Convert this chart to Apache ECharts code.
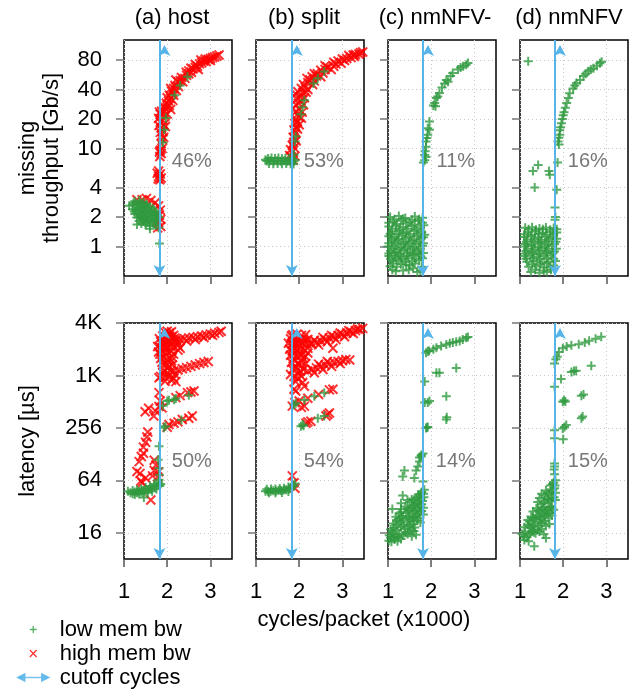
<!DOCTYPE html>
<html>
<head>
<meta charset="utf-8">
<script src="https://cdn.jsdelivr.net/npm/echarts@6/dist/echarts.min.js"></script>
<style>
  html, body { margin: 0; padding: 0; background: #fff; }
  #chart { width: 636px; height: 692px; }
</style>
</head>
<body>
<div id="chart"></div>
<script>
// panel titles, ticks, annotations
var panelTitles = ['(a) host', '(b) split', '(c) nmNFV-', '(d) nmNFV'];
var xTicks = [1, 2, 3];
var thrTicks = [1, 2, 4, 10, 20, 40, 80];
var latTicks = [16, 64, 256, 1024, 4096];
var latTickLabels = ['16', '64', '256', '1K', '4K'];
var thrPct = ['46%', '53%', '11%', '16%'];
var latPct = ['50%', '54%', '14%', '15%'];
var cutoffCycles = [1.82, 1.83, 1.81, 1.81];

// (a) host - missing throughput
var hostThrLow = [
  [1.25,2.9],[1.35,2.95],[1.45,2.85],[1.12,2.6],[1.2,2.65],[1.3,2.7],[1.4,2.6],[1.5,2.62],[1.6,2.55],
  [1.2,2.4],[1.28,2.35],[1.36,2.45],[1.44,2.35],[1.52,2.4],[1.6,2.3],[1.7,2.35],
  [1.25,2.15],[1.33,2.2],[1.41,2.1],[1.49,2.2],[1.57,2.12],[1.65,2.15],[1.75,2.1],
  [1.3,1.98],[1.38,1.95],[1.46,2.0],[1.54,1.92],[1.62,1.98],[1.7,1.93],[1.8,1.98],
  [1.35,1.82],[1.45,1.8],[1.55,1.83],[1.65,1.78],[1.76,1.8],[1.3,1.68],[1.5,1.66],[1.6,1.62],[1.74,1.65],
  [1.6,1.52],[1.8,1.55],[1.82,1.07],
  [1.22,2.78],[1.38,2.78],[1.52,2.72],[1.32,2.52],[1.46,2.5],[1.56,2.48],[1.66,2.45],[1.24,2.28],
  [1.36,2.3],[1.48,2.28],[1.62,2.22],[1.72,2.22],[1.38,2.05],[1.52,2.06],[1.68,2.04],[1.78,2.08],
  [1.42,1.9],[1.58,1.88],[1.72,1.86],[1.5,1.74],[1.68,1.72],[1.4,1.72],
  [1.9,11.5],[1.93,15.5],[1.97,20.5],[2.17,35],[2.3,44],[2.47,54]
];
var hostThrHigh = [
  [1.42,3.0],[1.52,3.1],[1.62,2.95],[1.72,2.8],[1.8,2.6],[1.84,2.35],[1.82,2.1],[1.85,1.9],[1.8,1.75],[1.85,1.6],[1.78,1.55],[1.3,3.0],
  [1.77,5.6],[1.8,5.2],[1.83,4.8],[1.86,5.0],[1.8,5.9],[1.84,5.5],[1.79,4.9],
  [1.83,8.3],[1.86,8.9],[1.84,9.6],[1.88,10.0],[1.82,9.2],
  [1.86,11.2],[1.89,12.4],[1.87,13.6],[1.92,13.0],[1.84,14.6],[1.9,15.0],
  [1.81,17.2],[1.86,16.2],[1.92,17.5],[1.96,16.8],[1.84,18.5],
  [1.8,20.3],[1.84,22.4],[1.9,19.4],[1.95,21.5],[2.0,22.5],[1.87,24.0],[1.82,23.5],[1.93,23.6],
  [1.95,25.5],[2.0,26.5],[2.05,27.5],[2.08,25],[1.98,29],[1.92,27],
  [2.03,30.5],[2.08,32.5],[2.13,31],[2.05,35],[2.15,35],[2.0,33],
  [2.1,38.5],[2.15,41],[2.21,39],[2.18,44],[2.26,43],[2.08,41],
  [2.25,48],[2.3,49.5],[2.36,48],[2.33,53],[2.41,52],[2.2,50],
  [2.45,56],[2.5,58],[2.5,62],[2.56,60],[2.6,65],[2.44,60],[2.55,66],
  [2.65,67],[2.7,69],[2.75,73],[2.8,75],[2.85,78],[2.9,77],[2.72,64],[2.65,72],[2.78,80],
  [2.95,81],[3.0,83],[3.05,85],[3.1,86],[3.15,88],[3.0,79],[3.2,90],[2.88,82]
];

// (b) split - missing throughput
var splitThrLow = [
  [1.28,7.9],[1.36,8.0],[1.44,7.9],[1.52,8.0],[1.6,7.9],[1.68,7.95],[1.76,7.9],[1.84,7.85],
  [1.25,7.45],[1.33,7.5],[1.41,7.4],[1.49,7.5],[1.57,7.4],[1.65,7.5],[1.73,7.4],[1.81,7.45],[1.88,7.4],
  [1.3,7.05],[1.4,7.0],[1.5,7.05],[1.6,7.0],[1.7,7.05],[1.8,7.0],[1.87,6.95],[1.22,7.7],[1.9,7.7],
  [1.88,8.7],[1.9,11.8],[1.92,13.3],[2.04,22.3],[2.08,26.4],[2.12,31],[2.33,46],[2.43,52],[2.58,61]
];
var splitThrHigh = [
  [1.82,8.2],[1.86,7.6],[1.9,8.4],[1.78,8.5],
  [1.8,9.7],[1.85,9.3],[1.88,10.2],[1.84,10.8],
  [1.87,11.5],[1.9,12.5],[1.93,12],[1.86,13],[1.91,14.2],
  [1.88,15.5],[1.92,16.5],[1.96,15.8],[1.9,18],[1.95,18.5],[2.0,17.5],
  [1.92,20],[1.96,22.3],[2.0,21],[2.05,20.5],[1.93,24],[2.0,25],[2.07,23.5],
  [1.93,28],[1.98,29],[2.04,30.8],[2.1,28],[1.95,32],[2.02,34],[2.12,33],
  [1.92,36],[1.97,38],[2.08,37],[2.16,37.5],[2.05,41],[2.14,42],[2.2,40],
  [2.1,45],[2.2,47],[2.31,45],[2.25,50],[2.35,49],[2.18,52],
  [2.3,54],[2.4,55],[2.5,54],[2.42,58],[2.55,59],[2.35,58],
  [2.5,63],[2.6,64],[2.74,64],[2.65,68],[2.8,69],[2.6,70],
  [2.85,73],[2.97,74],[2.9,78],[3.05,79],[2.8,76],[3.0,82],
  [3.1,83],[3.2,85],[3.28,87],[3.15,89],[3.3,91],[3.38,92],[3.47,96.5],[3.42,95],[3.25,90]
];

// (c) nmNFV- - missing throughput
var nmnfvmThrLow = [
  [1.05,2.0],[1.25,2.05],[1.4,1.95],[1.62,2.02],[1.8,1.97],
  [1.12,1.8],[1.3,1.83],[1.5,1.78],[1.7,1.82],
  [1.02,1.6],[1.18,1.63],[1.35,1.58],[1.55,1.62],[1.75,1.57],[1.83,1.65],
  [1.08,1.42],[1.25,1.45],[1.42,1.4],[1.6,1.44],[1.78,1.4],
  [1.02,1.27],[1.15,1.25],[1.32,1.29],[1.48,1.26],[1.66,1.28],[1.82,1.24],
  [1.08,1.13],[1.22,1.15],[1.38,1.11],[1.55,1.14],[1.72,1.12],
  [1.0,1.0],[1.14,1.02],[1.3,0.98],[1.46,1.01],[1.62,0.99],[1.8,1.02],
  [1.06,0.9],[1.2,0.88],[1.36,0.91],[1.52,0.89],[1.7,0.9],
  [1.02,0.8],[1.16,0.81],[1.3,0.79],[1.45,0.8],[1.6,0.82],[1.76,0.79],
  [1.1,0.71],[1.25,0.72],[1.4,0.7],[1.56,0.71],[1.72,0.72],
  [1.05,0.63],[1.2,0.62],[1.5,0.64],[1.78,0.62],[1.18,0.56],[1.35,0.57],[1.68,0.55],
  [1.15,1.9],[1.35,1.92],[1.55,1.88],[1.72,1.9],[1.02,1.75],[1.2,1.7],[1.42,1.72],[1.62,1.68],[1.8,1.75],
  [1.1,1.52],[1.28,1.5],[1.46,1.52],[1.66,1.5],[1.05,1.35],[1.2,1.34],[1.36,1.36],[1.52,1.33],[1.7,1.35],[1.85,1.32],
  [1.08,1.2],[1.25,1.19],[1.42,1.21],[1.6,1.18],[1.76,1.2],[1.02,1.08],[1.18,1.07],[1.35,1.06],[1.5,1.08],[1.66,1.06],[1.82,1.08],
  [1.1,0.95],[1.25,0.94],[1.4,0.96],[1.58,0.94],[1.75,0.95],[1.02,0.85],[1.15,0.86],[1.28,0.84],[1.44,0.85],[1.58,0.86],[1.72,0.84],[1.82,0.86],
  [1.06,0.75],[1.2,0.76],[1.34,0.74],[1.48,0.76],[1.64,0.75],[1.8,0.76],[1.12,0.67],[1.3,0.66],[1.42,0.65],[1.62,0.67],
  [1.1,0.58],[1.48,0.58],[1.58,0.6],[1.75,0.57],
  [1.96,18.9],[1.92,16.1],[1.92,13.8],[1.88,11.8],[1.88,10.4],[1.85,8.6],[1.85,7.6],[1.82,7.2],
  [1.88,8.2],[1.96,15.5],[1.9,12.8],[1.86,9.4],
  [2.08,29.2],[2.12,32.7],[2.19,36.8],[2.31,46],[2.39,48],[2.5,59],[2.62,64],[2.74,69],[2.85,74.5],
  [2.81,71.6],[2.15,34],[2.35,50],[2.1,27],[2.45,55],[2.68,67],[2.25,42],[2.05,27.5]
];

// (d) nmNFV - missing throughput
var nmnfvThrLow = [
  [1.19,77.7],[1.42,6.8],[1.3,5.9],[1.67,5.9],[1.69,5.4],[1.34,4.0],[1.87,7.2],[1.85,3.8],[1.81,2.5],[1.82,2.0],[1.81,1.87],
  [1.12,1.55],[1.28,1.57],[1.45,1.53],[1.6,1.56],[1.78,1.54],
  [1.18,1.4],[1.35,1.42],[1.52,1.38],[1.7,1.41],[1.85,1.39],
  [1.1,1.25],[1.25,1.27],[1.42,1.24],[1.58,1.26],[1.75,1.25],
  [1.15,1.12],[1.32,1.13],[1.48,1.11],[1.65,1.13],[1.83,1.12],
  [1.1,1.0],[1.26,1.01],[1.42,0.99],[1.58,1.0],[1.74,1.01],
  [1.14,0.9],[1.3,0.89],[1.46,0.91],[1.62,0.9],[1.8,0.89],
  [1.1,0.8],[1.24,0.81],[1.4,0.79],[1.56,0.8],[1.72,0.81],
  [1.16,0.7],[1.32,0.71],[1.5,0.69],[1.66,0.7],[1.82,0.71],
  [1.2,0.62],[1.38,0.63],[1.56,0.61],[1.7,0.62],[1.25,0.55],[1.45,0.54],[1.62,0.55],
  [1.2,1.5],[1.37,1.48],[1.53,1.5],[1.7,1.48],[1.85,1.5],[1.1,1.33],[1.27,1.32],[1.44,1.34],[1.62,1.32],[1.78,1.33],
  [1.17,1.18],[1.34,1.19],[1.5,1.17],[1.68,1.19],[1.85,1.2],[1.12,1.06],[1.28,1.05],[1.45,1.07],[1.62,1.05],[1.8,1.06],
  [1.18,0.95],[1.34,0.94],[1.5,0.96],[1.66,0.95],[1.84,0.95],[1.12,0.85],[1.28,0.85],[1.44,0.84],[1.6,0.86],[1.76,0.85],
  [1.14,0.75],[1.3,0.76],[1.46,0.74],[1.62,0.76],[1.78,0.75],[1.28,0.66],[1.46,0.66],[1.62,0.67],[1.78,0.64],
  [1.35,0.58],[1.55,0.57],[1.72,0.58],
  [1.9,12.9],[1.92,13.8],[1.92,15.4],[1.96,18.1],[2.0,21.8],[2.02,23.5],[2.08,29.2],[2.12,32.7],
  [2.15,36.7],[2.23,41],[2.31,46.5],[2.39,50],[2.47,55],[2.58,61.5],[2.7,66],[2.85,74],[2.89,77],
  [1.88,11.8],[1.9,11],[1.94,16.5],[1.98,20],[2.05,26],[2.27,44],[2.52,58],[2.64,64],[2.78,70]
];

// (a) host - latency
var hostLatLow = [
  [1.09,48],[1.15,46],[1.2,45],[1.25,47],[1.3,46],[1.35,48],[1.4,47],[1.45,49],[1.5,48],[1.55,50],
  [1.6,51],[1.65,52],[1.7,54],[1.75,55],[1.8,57],[1.85,58],
  [1.2,49],[1.3,50],[1.4,51],[1.5,53],[1.6,55],[1.7,58],[1.8,61],[1.83,55],
  [1.25,44],[1.35,44.5],[1.45,45.5],[1.55,46.5],[1.65,48],[1.75,51],[1.46,40.6],
  [1.81,158],[1.79,110],[1.81,88],[1.82,74],[1.81,65],
  [1.92,257],[1.96,267],[2.0,520],[2.16,540],[2.2,555],[2.5,605],[2.33,316],[1.9,460],[2.04,530]
];
var hostLatHigh = [
  [1.95,3200],[2.0,3300],[2.05,3150],[2.1,3250],
  [1.9,2900],[1.95,2850],[2.0,2950],[2.05,2900],[2.1,2850],[2.15,2950],
  [1.85,2500],[1.9,2550],[1.95,2450],[2.0,2550],[2.05,2500],[2.1,2450],[2.2,2550],
  [1.78,2200],[1.85,2150],[1.92,2250],[2.0,2150],[2.08,2200],[2.15,2150],[2.25,2250],
  [1.8,1900],[1.88,1950],[1.95,1850],[2.02,1900],[2.1,1950],
  [1.85,1600],[1.92,1650],[2.0,1550],[2.06,1600],[2.12,1650],
  [1.9,1350],[1.98,1400],[2.05,1300],[2.12,1350],
  [1.92,1150],[2.0,1100],[2.08,1150],
  [1.85,1000],[1.95,980],[2.05,1020],[2.15,950],[1.95,880],[2.1,900],[2.2,870],[1.81,965],
  [1.82,2700],[1.88,2350],[1.98,2700],[2.08,2650],[2.18,2750],[1.83,1800],[1.98,2050],[2.15,1800],
  [1.88,1450],[2.02,1250],[2.1,1500],[2.18,1050],[1.9,1100],[2.25,2000],[2.3,2100],
  [2.2,2600],[2.3,2650],[2.4,2700],[2.5,2750],[2.6,2800],[2.7,2850],[2.8,2900],[2.9,2980],[3.0,3050],
  [3.1,3120],[3.2,3200],[3.25,3300],[2.25,2450],[2.45,2550],[2.65,2650],[2.85,2780],[3.05,2950],
  [2.15,1150],[2.25,1180],[2.35,1220],[2.45,1260],[2.55,1300],[2.65,1350],[2.75,1400],[2.85,1440],[2.95,1480],
  [1.81,650],[1.84,520],[2.2,570],[2.47,650],[2.62,680],[1.88,435],[2.3,600],[2.55,660],
  [2.04,280],[2.16,290],[2.35,320],[2.5,330],[2.58,350],[2.0,260],[2.25,300],
  [1.49,392],[1.57,430],[1.69,350],[1.73,400],[1.81,450],[1.45,131],[1.45,154],[1.53,201],[1.4,120],
  [1.37,77],[1.39,63],[1.62,38],[1.66,72],[1.7,83],[1.74,96],[1.7,109],[1.5,175],[1.55,230],
  [1.35,105],[1.78,70],[1.8,80],[1.42,60],[1.3,81],[1.5,68]
];

// (b) split - latency
var splitLatLow = [
  [1.22,48],[1.28,47.5],[1.34,48],[1.4,48.5],[1.46,48],[1.52,49],[1.58,49],[1.64,49.5],[1.7,50],
  [1.76,51],[1.82,52],[1.88,55],[1.9,59],
  [1.25,50.5],[1.35,51],[1.45,51],[1.55,51.5],[1.65,52],[1.75,53.5],[1.85,57],
  [1.3,46],[1.45,46],[1.6,46.5],[1.75,47.5],
  [2.04,267],[2.08,280],[2.43,330],[2.58,350],[1.88,470],[1.92,490],[2.12,535],[2.35,590],[2.58,650],[2.1,270]
];
var splitLatHigh = [
  [1.84,72],[1.88,60],[1.9,52],
  [2.16,290],[2.27,305],[2.62,350],[2.66,365],[2.7,380],[2.2,300],
  [2.12,455],[1.84,455],[1.92,680],[1.88,710],[2.12,770],[2.78,710],[1.9,500],[2.0,520],[2.2,560],[2.45,620],[2.7,700],[2.05,440],
  [1.85,3000],[1.95,3050],[2.05,2950],[2.15,3000],[1.8,2700],[1.9,2750],[2.0,2650],[2.1,2700],[2.2,2650],
  [1.75,2400],[1.83,2350],[1.92,2450],[2.0,2350],[2.08,2400],[2.18,2350],[2.26,2400],
  [1.78,2050],[1.86,2100],[1.95,2000],[2.03,2050],[2.12,2000],[2.2,2100],
  [1.8,1750],[1.88,1800],[1.97,1700],[2.05,1750],[2.14,1700],
  [1.82,1450],[1.9,1500],[1.98,1400],[2.06,1450],[2.15,1400],
  [1.85,1200],[1.93,1250],[2.02,1150],[2.1,1200],
  [1.88,1000],[1.96,950],[2.05,1000],[1.92,870],[2.08,850],
  [1.82,2900],[1.9,2250],[1.98,2550],[2.12,2550],[1.84,1950],[2.0,1850],[2.2,1850],[1.86,1600],
  [2.1,1600],[1.9,1320],[2.05,1320],[1.8,1050],[2.0,1080],
  [2.3,2350],[2.4,2450],[2.5,2550],[2.6,2650],[2.7,2750],[2.8,2850],[2.9,2950],[3.0,3050],[3.1,3150],
  [3.2,3250],[3.3,3350],[3.4,3450],[3.47,3550],[2.35,2600],[2.55,2800],[2.75,2950],[2.95,3150],[3.15,3350],
  [3.35,3500],[2.45,2300],[2.65,2500],[2.85,2650],[3.05,2850],[3.25,3100],[2.78,2100],
  [2.2,1150],[2.3,1200],[2.4,1250],[2.5,1300],[2.6,1350],[2.7,1400],[2.8,1450],[2.9,1480],[3.0,1510],
  [3.08,1560],[3.17,1540],[2.35,1100],[2.55,1200],[2.75,1300],[2.95,1400],[2.45,1380],[2.65,1480]
];

// (c) nmNFV- - latency
var nmnfvmLatLow = [
  [1.02,13],[1.08,12.6],[1.15,13.4],[1.22,12.8],[1.3,13.6],
  [1.03,15],[1.1,15.6],[1.18,14.8],[1.26,15.4],[1.35,14.9],[1.45,15.5],[1.55,14.6],[1.65,15.2],
  [1.06,17.5],[1.14,18.2],[1.22,17.2],[1.3,18.5],[1.38,17.8],[1.46,18.8],[1.55,17.4],[1.62,18.4],
  [1.12,20.5],[1.2,21.8],[1.28,20.8],[1.36,22.4],[1.44,21.2],[1.52,22.8],[1.6,21.5],[1.68,22.2],[1.75,21],
  [1.18,24.5],[1.26,26.5],[1.34,25],[1.42,27],[1.5,24.8],[1.58,26.8],[1.66,25.5],[1.74,27.5],[1.82,26],
  [1.3,30],[1.4,32],[1.5,29.5],[1.58,33],[1.66,30.5],[1.74,32.5],[1.82,31],
  [1.5,36],[1.6,38],[1.68,35.5],[1.76,39],[1.83,41],
  [1.7,44],[1.78,47],[1.84,50],
  [1.06,14],[1.14,14.3],[1.24,14.2],[1.4,16],[1.5,16.4],[1.6,16.8],[1.1,16.5],[1.18,19.5],[1.34,19.8],
  [1.5,19.5],[1.58,20],[1.24,23],[1.32,23.6],[1.48,23.8],[1.56,24],[1.64,24.5],[1.7,23.8],[1.3,27.5],
  [1.46,28.4],[1.62,28],[1.7,29],[1.78,28.5],[1.45,30.5],[1.55,31.5],[1.62,33.5],[1.7,34.5],[1.78,34],
  [1.55,38.5],[1.65,40.5],[1.72,41.5],[1.8,37],[1.75,44],[1.82,45],
  [1.38,83],[1.34,71],[1.65,83],[1.69,92],[1.61,68],[1.34,43],[1.3,35],[1.73,117],[1.77,125],
  [1.81,62],[1.81,130],[1.77,120],[1.73,105],[1.1,30],[1.45,38],
  [1.88,256],[1.92,262],[1.85,500],[1.92,500],[1.96,520],[2.35,590],[2.35,320],[1.85,870],
  [2.12,1100],[2.19,1100],[2.58,1250],[1.9,258],[2.36,340],
  [1.88,1860],[1.92,1940],[2.12,2130],[2.23,2230],[2.35,2320],[2.5,2440],[2.66,2540],[2.81,2780],
  [2.85,2830],[1.95,1950],[2.05,2050],[2.43,2400],[2.58,2500],[2.73,2650]
];

// (d) nmNFV - latency
var nmnfvLatLow = [
  [1.1,13.2],[1.2,12.8],[1.33,11.2],[1.6,13.9],
  [1.05,15.5],[1.12,16.4],[1.2,15.2],[1.28,16.8],[1.36,15.8],[1.45,16.5],[1.55,15.4],
  [1.1,18.5],[1.18,19.8],[1.26,18.2],[1.34,20.4],[1.42,19],[1.5,20.6],[1.6,19.2],[1.68,20.2],
  [1.18,22.5],[1.26,24.5],[1.34,23],[1.42,25.5],[1.5,22.8],[1.58,24.8],[1.66,23.5],[1.74,25.2],
  [1.3,28],[1.38,30.5],[1.46,27.5],[1.54,31.5],[1.62,29],[1.7,32],[1.78,29.5],
  [1.41,36],[1.45,40],[1.55,35],[1.63,39],[1.71,36.5],[1.79,41],
  [1.5,45],[1.6,49],[1.68,44],[1.76,50],[1.82,46],
  [1.7,56],[1.78,60],[1.82,64],
  [1.08,14.5],[1.16,14.2],[1.24,15.8],[1.32,16.2],[1.4,17.2],[1.5,17.8],[1.22,19],[1.3,19.5],[1.46,21.5],
  [1.56,21.8],[1.22,21.5],[1.3,23.8],[1.38,24],[1.46,24.2],[1.55,26],[1.62,26.5],[1.7,27],[1.42,29],
  [1.5,29.5],[1.58,28.5],[1.66,30.5],[1.74,31.5],[1.5,34],[1.58,37.5],[1.66,38.5],[1.74,40],[1.82,38],
  [1.56,43],[1.64,46],[1.72,47.5],[1.8,52],[1.75,58],[1.81,56],
  [1.8,75],[1.79,85],[1.8,92],[1.8,100],[1.8,195],[1.8,240],[1.99,252],[2.0,190],[2.07,277],
  [2.42,330],[2.45,345],[1.99,510],[2.02,530],[2.42,600],[2.47,620],[1.95,935],[2.19,1120],[2.3,1160],
  [2.65,1320],[1.8,760],[1.8,1400],[1.83,1570],[1.86,1680],[1.99,2100],[2.19,2280],[2.36,2340],
  [2.6,2560],[2.88,2840],[1.9,1900],[2.08,2200],[2.5,2450],[2.75,2700],[2.25,1150],[2.05,515],[2.03,262]
];

var FONT = '"Liberation Sans", Arial, sans-serif';
var GREEN = '#2f9a3e', RED = '#ff0000', BLUE = '#56b4e9';
var PLUS = 'path://M0,4H8M4,0V8';
var CROSS = 'path://M0,0L8,8M8,0L0,8';

var lowSets = [[hostThrLow, splitThrLow, nmnfvmThrLow, nmnfvThrLow],
               [hostLatLow, splitLatLow, nmnfvmLatLow, nmnfvLatLow]];
var highSets = [[hostThrHigh, splitThrHigh, null, null],
                [hostLatHigh, splitLatHigh, null, null]];
var pctSets = [thrPct, latPct];
var pctPos = [[2.57, 7.3], [2.57, 106]];
var panelLeft = [124, 256, 388, 520];
var rowTop = [40, 323];
var titleX = [172, 304, 435, 569];

var chart = echarts.init(document.getElementById('chart'));
var grids = [], xAxes = [], yAxes = [], series = [];

for (var r = 0; r < 2; r++) {
  for (var c = 0; c < 4; c++) {
    var idx = r * 4 + c;
    grids.push({
      left: panelLeft[c], top: rowTop[r], width: 108, height: 236,
      show: true, borderColor: '#000', borderWidth: 1.5,
      containLabel: false, outerBoundsMode: 'none'
    });
    xAxes.push({
      gridIndex: idx, type: 'value', min: 1, max: 3.5,
      axisLine: {show: false},
      axisTick: {show: true, customValues: xTicks, length: 8, lineStyle: {color: '#555', width: 1.5}},
      axisLabel: {show: r === 1, customValues: xTicks, margin: 22, fontSize: 22, fontFamily: FONT, color: '#000'},
      splitLine: {show: true, lineStyle: {color: '#c8c8c8', type: [1, 3], width: 1}}
    });
    var ticks = r === 0 ? thrTicks : latTicks;
    yAxes.push({
      gridIndex: idx, type: 'log', logBase: 2,
      min: r === 0 ? 0.5 : 8, max: r === 0 ? 128 : 4096,
      axisLine: {show: false},
      axisTick: {show: true, customValues: ticks, length: 8, lineStyle: {color: '#777', width: 1.5}},
      axisLabel: {
        show: c === 0, customValues: ticks, margin: 22, fontSize: 22, fontFamily: FONT, color: '#000',
        formatter: (function (row) {
          return function (v) {
            if (row === 0) return String(Math.round(v));
            var best = 0;
            for (var i = 0; i < latTicks.length; i++) {
              if (Math.abs(latTicks[i] - v) < Math.abs(latTicks[best] - v)) best = i;
            }
            return latTickLabels[best];
          };
        })(r)
      },
      splitLine: {show: true, lineStyle: {color: '#c8c8c8', type: [1, 3], width: 1}}
    });
    if (highSets[r][c]) {
      series.push({
        type: 'scatter', name: 'high mem bw', xAxisIndex: idx, yAxisIndex: idx,
        data: highSets[r][c], symbol: CROSS, symbolSize: 9, silent: true,
        itemStyle: {color: RED, borderColor: RED, borderWidth: 2}
      });
    }
    series.push({
      type: 'scatter', name: 'low mem bw', xAxisIndex: idx, yAxisIndex: idx,
      data: lowSets[r][c], symbol: PLUS, symbolSize: 9, silent: true,
      itemStyle: {color: GREEN, borderColor: GREEN, borderWidth: 2}
    });
    series.push({
      type: 'scatter', name: 'cutoff cycles', xAxisIndex: idx, yAxisIndex: idx,
      data: [], itemStyle: {color: BLUE}, silent: true,
      markLine: {
        silent: true, animation: false,
        symbol: ['arrow', 'arrow'], symbolSize: [9, 11], symbolOffset: [0, 5],
        label: {show: false},
        lineStyle: {color: BLUE, width: 2, type: 'solid'},
        emphasis: {disabled: true},
        data: [{xAxis: cutoffCycles[c]}]
      }
    });
    series.push({
      type: 'scatter', name: 'pct', xAxisIndex: idx, yAxisIndex: idx,
      data: [[pctPos[r][0], pctPos[r][1]]], symbolSize: 1, silent: true,
      itemStyle: {color: 'transparent'},
      label: {show: true, position: 'inside', formatter: pctSets[r][c], fontSize: 20, fontFamily: FONT, color: '#555'}
    });
  }
}

var graphics = [];
for (var k = 0; k < 4; k++) {
  graphics.push({
    type: 'text', x: titleX[k], y: 18, silent: true,
    style: {text: panelTitles[k], font: '22px ' + FONT, fill: '#000', textAlign: 'center', textVerticalAlign: 'middle'}
  });
}
graphics.push({
  type: 'text', x: 40, y: 158, rotation: Math.PI / 2, silent: true,
  style: {text: 'missing\nthroughput [Gb/s]', font: '22px ' + FONT, fill: '#000', textAlign: 'center', textVerticalAlign: 'middle', lineHeight: 24}
});
graphics.push({
  type: 'text', x: 28, y: 441, rotation: Math.PI / 2, silent: true,
  style: {text: 'latency [µs]', font: '22px ' + FONT, fill: '#000', textAlign: 'center', textVerticalAlign: 'middle'}
});
graphics.push({
  type: 'text', x: 364, y: 620, silent: true,
  style: {text: 'cycles/packet (x1000)', font: '22px ' + FONT, fill: '#000', textAlign: 'center', textVerticalAlign: 'middle'}
});

chart.setOption({
  animation: false,
  grid: grids,
  xAxis: xAxes,
  yAxis: yAxes,
  series: series,
  graphic: graphics,
  legend: {
    orient: 'vertical', left: 17, top: 618, padding: 0,
    itemWidth: 31, itemHeight: 12, itemGap: 1, selectedMode: false,
    textStyle: {fontSize: 22, fontFamily: FONT, color: '#000', lineHeight: 23, padding: [0, 0, 0, 6]},
    data: [
      {name: 'low mem bw', icon: 'path://M0,0M14,14M3,7H11M7,3V11',
       itemStyle: {color: 'transparent', borderColor: GREEN, borderWidth: 1.3}},
      {name: 'high mem bw', icon: 'path://M0,0M14,14M3,3L11,11M11,3L3,11',
       itemStyle: {color: 'transparent', borderColor: RED, borderWidth: 1.3}},
      {name: 'cutoff cycles', icon: 'path://M0,5H31M0,5L7,1.5L7,8.5ZM31,5L24,1.5L24,8.5Z',
       itemStyle: {color: BLUE, borderColor: BLUE, borderWidth: 1.5}}
    ]
  }
});
</script>
</body>
</html>
